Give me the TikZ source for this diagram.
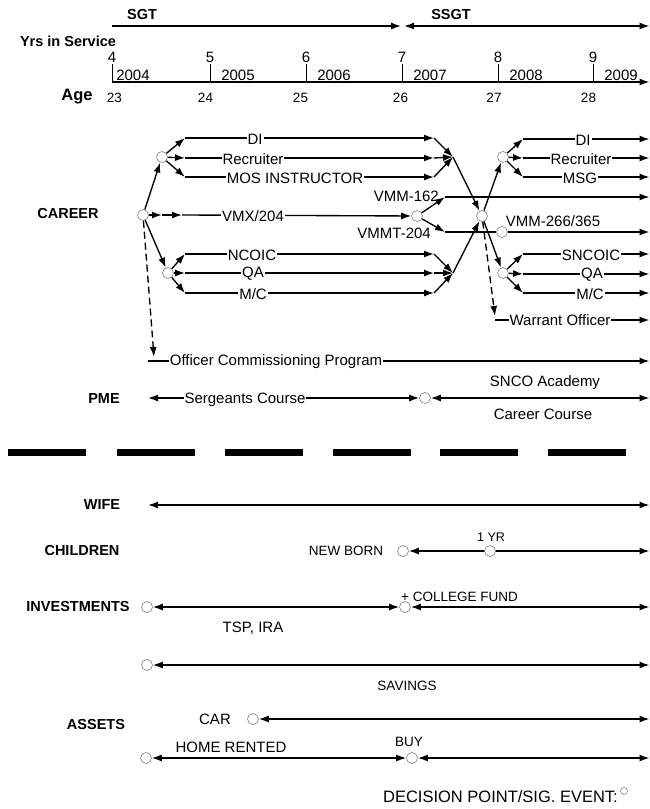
\documentclass[tikz,border=0pt]{standalone}
\usepackage{fontspec}
\setmainfont{Liberation Sans}
\usetikzlibrary{arrows.meta}
\begin{document}
\begin{tikzpicture}[x=1pt,y=-1pt,
  ln/.style={line width=1.35pt},
  ar/.style={ln,-{Latex[length=10pt,width=7pt]}},
  dbl/.style={ln,{Latex[length=10pt,width=7pt]}-{Latex[length=10pt,width=7pt]}},
  dsh/.style={dash pattern=on 7pt off 4pt},
  dp/.style={circle,draw=black!50,line width=0.6pt,minimum size=11pt,inner sep=0pt,fill=white},
  lbl/.style={font=\fontsize{15}{17}\selectfont,inner sep=1pt,fill=white},
  hd/.style={font=\fontsize{14.5}{16}\selectfont\bfseries,inner sep=0pt},
  txt/.style={font=\fontsize{15}{17}\selectfont,inner sep=0pt},
  sml/.style={font=\fontsize{13.5}{15}\selectfont,inner sep=0pt},
  sepbar/.style={line width=7pt}
]
\useasboundingbox (0,0) rectangle (650,809);

% ---------- top time scale ----------
\node[hd] (sgt) at (142,15) {SGT};
\node[hd] (ssgt) at (451,15) {SSGT};
\coordinate (s0) at (112,26);
\coordinate (s1) at (401,26);
\coordinate (s2) at (404,26);
\coordinate (s3) at (649.5,26);
\draw[ar] (s0) -- (s1);
\draw[dbl] (s2) -- (s3);

\node[hd] (yrs) at (68,41) {Yrs in Service};
\coordinate (ax0) at (112,82);
\coordinate (ax1) at (649.5,82);
\draw[ar] (ax0) -- (ax1);
\foreach \x/\n/\yr/\yx/\ag/\ax in {112/4/2004/133/23/114.5, 210/5/2005/238/24/205.5, 306/6/2006/334/25/300.5, 402/7/2007/430/26/400.5, 498/8/2008/526/27/494, 593/9/2009/621/28/588.5}{
  \draw[line width=1pt] (\x,64) -- (\x,82);
  \node[txt] (n\n) at (\x,57.5) {\n};
  \node[txt] (y\n) at (\yx,75) {\yr};
  \node[sml] (g\n) at (\ax,98) {\ag};
}
\node[font=\fontsize{16.5}{18}\selectfont\bfseries,inner sep=0pt] (age) at (77,97) {Age};

% ---------- career ----------
\node[hd] (career) at (68,214) {CAREER};
\node[dp] (c0) at (143,215) {};
\node[dp] (c1) at (162,157) {};
\node[dp] (c2) at (168,273) {};
\node[dp] (cv) at (417,216) {};
\node[dp] (cc) at (482,216) {};
\node[dp] (c3) at (503,157) {};
\node[dp] (c4) at (503,273) {};

\coordinate (m1) at (453,157);
\coordinate (m2) at (453,273);
\foreach \i/\y in {1/138,2/158,3/177}{
  \coordinate (uL\i) at (185,\y);
  \coordinate (uR\i) at (434,\y);
  \draw[ar] (c1) -- (uL\i);
  \draw[ar] (uL\i) -- (uR\i);
  \draw[ar] (uR\i) -- (m1);
}
\foreach \i/\y in {1/254,2/273,3/293}{
  \coordinate (lL\i) at (185,\y);
  \coordinate (lR\i) at (434,\y);
  \draw[ar] (c2) -- (lL\i);
  \draw[ar] (lL\i) -- (lR\i);
  \draw[ar] (lR\i) -- (m2);
}
\draw[ar] (c0) -- (c1);
\draw[ar] (c0) -- (c2);
\coordinate (v1) at (162,215);
\coordinate (v2) at (182,215);
\draw[ar] (c0) -- (v1);
\draw[ar] (v1) -- (v2);
\draw[ar] (v2) -- (cv);
\draw[ar] (m1) -- (cc);
\draw[ar] (m2) -- (cc);
\draw[ar] (cc) -- (c3);
\draw[ar] (cc) -- (c4);
\foreach \i/\y in {1/139,2/158,3/177}{
  \coordinate (rL\i) at (523,\y);
  \coordinate (rR\i) at (649.5,\y);
  \draw[ar] (c3) -- (rL\i);
  \draw[ar] (rL\i) -- (rR\i);
}
\foreach \i/\y in {1/254,2/274,3/293}{
  \coordinate (qL\i) at (523,\y);
  \coordinate (qR\i) at (649.5,\y);
  \draw[ar] (c4) -- (qL\i);
  \draw[ar] (qL\i) -- (qR\i);
}
\coordinate (vu0) at (445,197);
\coordinate (vu1) at (649.5,197);
\coordinate (vd0) at (445,232);
\coordinate (vd1) at (649.5,232);
\draw[ar] (cv) -- (vu0);
\draw[ar] (vu0) -- (vu1);
\draw[ar] (cv) -- (vd0);
\node[dp] (c5) at (502,232) {};
\draw[ln] (vd0) -- (c5);
\draw[ar] (c5) -- (vd1);

% dashed branches
\coordinate (oc0) at (154,357);
\coordinate (oc1) at (148,361);
\coordinate (oc2) at (649.5,361);
\draw[ar,dsh] (c0) -- (oc0);
\draw[ar] (oc1) -- (oc2);
\coordinate (wo0) at (495,316);
\coordinate (wo1) at (495,320);
\coordinate (wo2) at (649.5,320);
\draw[ar,dsh] (cc) -- (wo0);
\draw[ar] (wo1) -- (wo2);

% career labels
\node[lbl] (tDI) at (255,139) {DI};
\node[lbl] (tRec) at (253,159) {Recruiter};
\node[lbl] (tMOS) at (295,178) {MOS INSTRUCTOR};
\node[lbl] (tVMX) at (253,216) {VMX/204};
\node[lbl] (tNC) at (252,255) {NCOIC};
\node[lbl] (tQA) at (253,274) {QA};
\node[lbl] (tMC) at (253,294) {M/C};
\node[lbl] (tDI2) at (583,140) {DI};
\node[lbl] (tRec2) at (581,159) {Recruiter};
\node[lbl] (tMSG) at (580,178) {MSG};
\node[lbl] (tSN) at (591,255) {SNCOIC};
\node[lbl] (tQA2) at (592,275) {QA};
\node[lbl] (tMC2) at (590,294) {M/C};
\node[lbl] (tWO) at (560,320) {Warrant Officer};
\node[lbl] (tOCP) at (276,362) {Officer Commissioning Program};
\node[txt,anchor=east] (tV162) at (439,196) {VMM-162};
\node[txt,anchor=east] (tV204) at (431,233) {VMMT-204};
\node[txt] (tV266) at (553,221) {VMM-266/365};

% ---------- PME ----------
\node[hd] (pme) at (104,399) {PME};
\coordinate (p0) at (148,398);
\node[dp] (cp) at (425,398) {};
\coordinate (p3) at (649.5,398);
\draw[dbl] (p0) -- (cp);
\draw[dbl] (cp) -- (p3);
\node[lbl] (tSC) at (245,400) {Sergeants Course};
\node[txt] (tSNCO) at (545,383) {SNCO Academy};
\node[txt] (tCC) at (543,414) {Career Course};

% separator
\foreach \x in {8,117,225,333,440,548}{
  \draw[sepbar] (\x,452) -- (\x+78,452);
}

% ---------- personal ----------
\node[hd] (wife) at (102,505) {WIFE};
\coordinate (wf0) at (148,505);
\coordinate (wf1) at (649.5,505);
\draw[dbl] (wf0) -- (wf1);

\node[hd] (child) at (82,551) {CHILDREN};
\node[sml] (tNB) at (346,551) {NEW BORN};
\node[dp] (nb) at (403,551) {};
\coordinate (ch1) at (649.5,551);
\draw[dbl] (nb) -- (ch1);
\node[dp] (yr1) at (490,551) {};
\node[font=\fontsize{12.5}{14}\selectfont,inner sep=0pt] (t1yr) at (491,537) {1 YR};

\node[hd] (inv) at (78,607) {INVESTMENTS};
\node[dp] (i0) at (147,607) {};
\node[dp] (i1) at (405,607) {};
\coordinate (i2) at (649.5,607);
\draw[dbl] (i0) -- (i1);
\draw[dbl] (i1) -- (i2);
\node[sml,anchor=west] (tCF) at (401,597) {+ COLLEGE FUND};
\node[txt] (tTSP) at (253,628) {TSP, IRA};

\node[dp] (sv0) at (147,665) {};
\coordinate (sv1) at (649.5,665);
\draw[dbl] (sv0) -- (sv1);
\node[sml] (tSAV) at (407,686) {SAVINGS};

\node[hd] (assets) at (96,724) {ASSETS};
\node[txt] (tCAR) at (215,719) {CAR};
\node[dp] (car) at (253,719) {};
\coordinate (car1) at (649.5,719);
\draw[dbl] (car) -- (car1);
\node[txt] (tHR) at (231,747) {HOME RENTED};
\node[dp] (h0) at (146,758) {};
\node[dp] (h1) at (412,758) {};
\coordinate (h2) at (649.5,758);
\draw[dbl] (h0) -- (h1);
\draw[dbl] (h1) -- (h2);
\node[sml] (tBUY) at (409,742) {BUY};

% legend
\node[font=\fontsize{16.5}{18}\selectfont,inner sep=0pt,anchor=east] (leg) at (618,797) {DECISION POINT/SIG. EVENT:};
\node[circle,draw=black!50,line width=0.6pt,minimum size=7pt,inner sep=0pt] (legc) at (624,791) {};
\end{tikzpicture}
\end{document}
